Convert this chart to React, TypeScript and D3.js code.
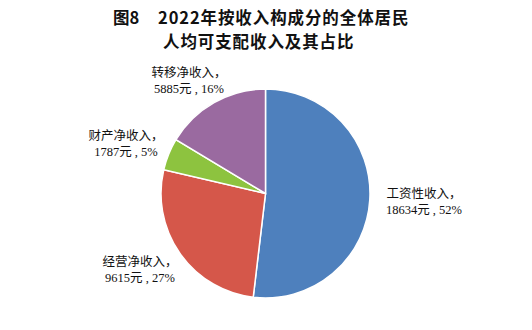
import React from "react";
import * as d3 from "d3";

const categories = ["工资性收入", "经营净收入", "财产净收入", "转移净收入"];
const values = [18634, 9615, 1787, 5885];
const percents = ["52%", "27%", "5%", "16%"];
const colors = ["#4E80BD", "#D5574A", "#8DC33F", "#9A6AA0"];
const labelPos = [
  [424, 198],
  [140, 266],
  [126, 140],
  [189, 77],
];

export default function App() {
  const W = 532, H = 330;
  const cx = 265.5, cy = 193.5, r = 104.5;
  const pie = d3.pie<number>().sort(null).startAngle(0).endAngle(2 * Math.PI);
  const arcs = pie(values);
  const arc = d3.arc<d3.PieArcDatum<number>>().innerRadius(0).outerRadius(r);
  const labelFont = "'Liberation Serif', 'Noto Sans CJK SC', serif";
  return (
    <svg width={W} height={H} style={{ position: "absolute", left: 0, top: 0, background: "#fff" }}>
      <g fontFamily="'Noto Sans CJK SC', sans-serif" fontWeight="bold" fontSize={16.5} fill="#111" textAnchor="start">
        <text x={113} y={24}>图8</text>
        <text x={158} y={24} letterSpacing={0.9}>2022年按收入构成分的全体居民</text>
        <text x={163} y={48} letterSpacing={0.9}>人均可支配收入及其占比</text>
      </g>
      <g transform={`translate(${cx},${cy})`}>
        {arcs.map((a, i) => (
          <path key={i} d={arc(a) || ""} fill={colors[i]} stroke="#fff" strokeWidth={1.5} />
        ))}
      </g>
      <g fontFamily={labelFont} fontSize={12.5} fill="#111" textAnchor="middle">
        {categories.map((c, i) => (
          <g key={i}>
            <text x={labelPos[i][0]} y={labelPos[i][1]}>{c}，</text>
            <text x={labelPos[i][0]} y={labelPos[i][1] + 16}>{`${values[i]}元 , ${percents[i]}`}</text>
          </g>
        ))}
      </g>
    </svg>
  );
}
